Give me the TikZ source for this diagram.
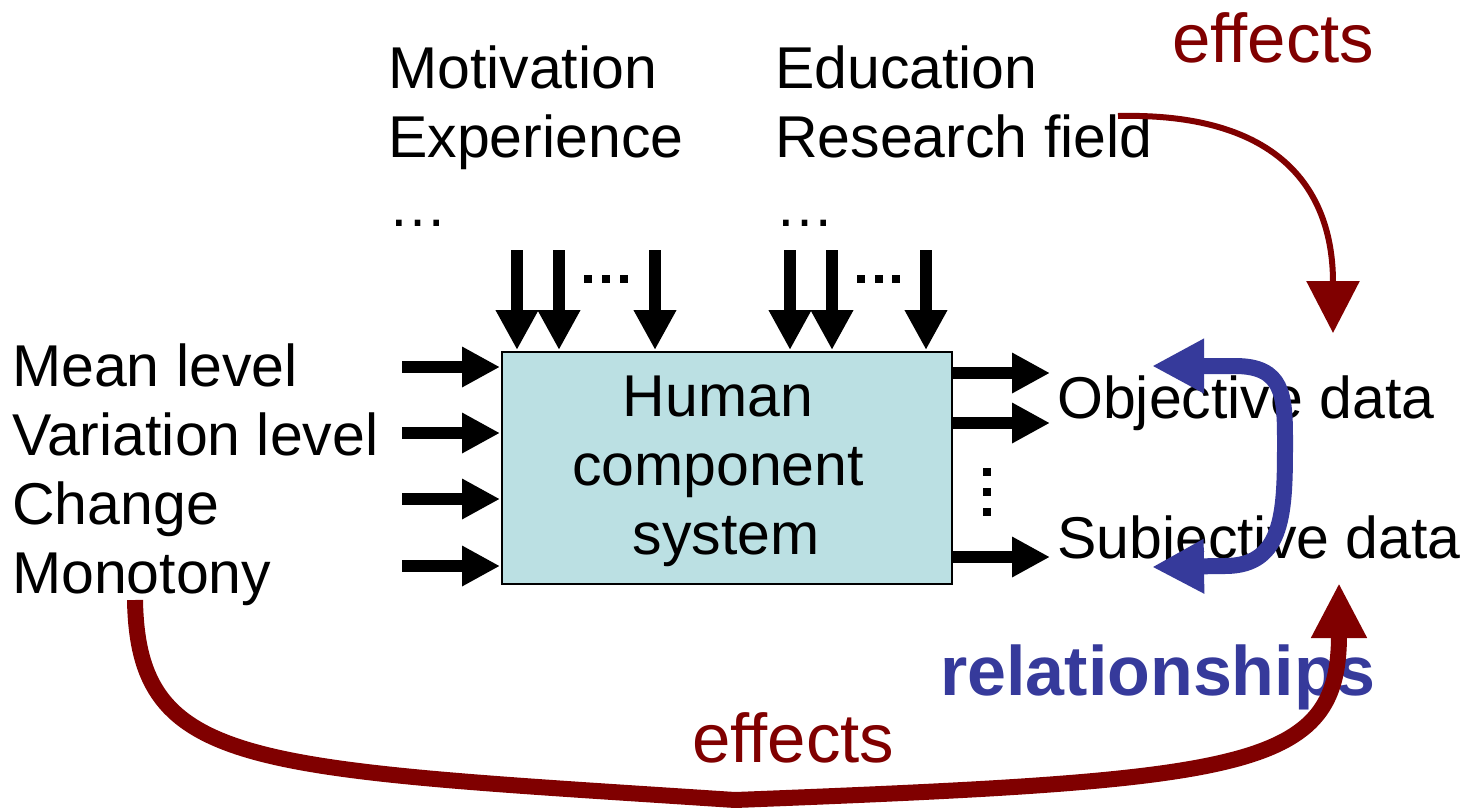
\documentclass[tikz,border=0pt]{standalone}
\usepackage{fontspec}
\setmainfont{Liberation Sans}
\usetikzlibrary{arrows.meta}
\definecolor{dred}{HTML}{800000}
\definecolor{rblue}{HTML}{363A9B}
\definecolor{boxfill}{HTML}{BBE0E3}
\begin{document}
\begin{tikzpicture}[x=1pt,y=-1pt,
  txt/.style={inner sep=0pt, font=\fontsize{59}{69}\selectfont, align=left},
  ctxt/.style={inner sep=0pt, font=\fontsize{59}{69}\selectfont, align=center},
  sidearrow/.style={line width=12pt, -{Triangle[length=38pt,width=38pt]}},
  toparrow/.style={line width=12pt, -{Triangle[length=40pt,width=40pt]}},
  dotsq/.style={fill=black, minimum size=8pt, inner sep=0pt, draw=none},
  redtext/.style={inner sep=0pt, text=dred, font=\fontsize{69}{72}\selectfont},
]
\useasboundingbox (0,0) rectangle (1476,807);
\fill[white] (0,0) rectangle (1476,807);

% main box
\node[draw, line width=2pt, fill=boxfill, minimum width=450pt, minimum height=232pt,
      anchor=north west, inner sep=0pt] (box) at (501,351) {};
\node[ctxt, anchor=north] (hcs) at (718,375.8) {Human\\component\\\hspace*{16pt}system};

% left list
\node[txt, anchor=north west] (left) at (12,343.8) {Mean level\\Variation level\\Change\\Monotony};
% top lists
\node[txt, anchor=north west] (topl) at (388,45.8) {Motivation\\Experience\\…};
\node[txt, anchor=north west] (topr) at (775,45.8) {Education\\Research field\\…};
% right outputs
\node[txt, anchor=base west] (obj) at (1057,418) {Objective data};
\node[txt, anchor=base west] (subj) at (1057,558) {Subjective data};

% left arrows
\foreach \i/\yy in {1/367,2/433,3/499,4/566}{
  \coordinate (ls\i) at (402,\yy);
  \coordinate (le\i) at (500,\yy);
  \draw[sidearrow] (ls\i) -- (le\i);
}
% right arrows
\foreach \i/\yy in {1/373,2/423,3/557}{
  \coordinate (rs\i) at (951,\yy);
  \coordinate (re\i) at (1050,\yy);
  \draw[sidearrow] (rs\i) -- (re\i);
}
% top arrows
\foreach \i/\xx in {1/517,2/559,3/655,4/790,5/832,6/926}{
  \coordinate (ts\i) at (\xx,250);
  \coordinate (te\i) at (\xx,350);
  \draw[toparrow] (ts\i) -- (te\i);
}
% dots
\foreach \i/\xx in {1/588,2/605.5,3/623.5,4/860.5,5/878.5,6/896}{
  \node[dotsq] (hd\i) at (\xx,279) {};
}
\foreach \i/\yy in {1/471.5,2/491.5,3/511.5}{
  \node[dotsq] (vd\i) at (987,\yy) {};
}

% blue relationships arrow
\coordinate (bt) at (1152,366);
\coordinate (bb) at (1152,567);
\draw[rblue, line width=16pt, {Triangle[length=52pt,width=51pt]}-{Triangle[length=52pt,width=51pt]}]
  (bt) -- (1235,366) .. controls (1283,366) and (1285,395) .. (1285,440)
  .. controls (1285,510) and (1285,566) .. (1225,566) -- (bb);
\node[inner sep=0pt, anchor=base west, text=rblue, font=\bfseries\fontsize{70}{72}\selectfont] (rel) at (940,695) {relationships};

% top-right effects arrow
\node[redtext, anchor=base west] (eff1) at (1172,62) {effects};
\coordinate (e1s) at (1118,116);
\coordinate (e1e) at (1333,333);
\draw[dred, line width=6pt, -{Triangle[length=52pt,width=52pt]}]
  (e1s) .. controls (1290,112) and (1333,200) .. (e1e);

% bottom effects arrow
\node[redtext, anchor=base west] (eff2) at (692,762) {effects};
\coordinate (e2s) at (135,600);
\coordinate (e2m) at (735,800);
\coordinate (e2e) at (1339,583);
\draw[dred, line width=16pt, -{Triangle[length=55pt,width=52pt]}]
  (e2s) .. controls (138,770) and (250,768) .. (e2m)
  .. controls (1250,780) and (1339,770) .. (e2e);
\end{tikzpicture}
\end{document}
